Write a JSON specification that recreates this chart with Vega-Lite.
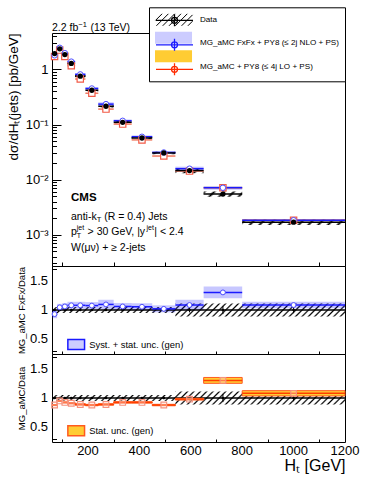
{
"$schema": "https://vega.github.io/schema/vega-lite/v6.json",
"padding": {"left": 5, "top": 6, "right": 0, "bottom": 0},
"spacing": 0,
"bounds": "flush",
"resolve": {"scale": {"fill": "independent", "stroke": "independent", "color": "independent"}, "legend": {"fill": "independent", "stroke": "independent", "color": "independent"}},
"config": {
  "font": "Liberation Sans",
  "view": {"stroke": "black", "strokeWidth": 1},
  "axis": {"grid": false, "domain": false, "labelFont": "Liberation Sans", "titleFont": "Liberation Sans", "labelColor": "black", "titleColor": "black", "tickColor": "black", "tickWidth": 1, "titleFontWeight": "normal", "labelFlush": false, "labelOverlap": false},
  "legend": {"labelFont": "Liberation Sans", "labelColor": "black"},
  "text": {"font": "Liberation Sans", "color": "black"}
},
"datasets": {
  "main": [
    {"xlo":60,"xhi":80,"xc":70,"d":1.95,"dlo":1.85,"dhi":2.05,"fx":1.81,"fxlo":1.68,"fxhi":1.94,"lo":1.72,"lolo":1.69,"lohi":1.75},
    {"xlo":80,"xhi":100,"xc":90,"d":2.37,"dlo":2.25,"dhi":2.49,"fx":2.48,"fxlo":2.33,"fxhi":2.63,"lo":2.25,"lolo":2.22,"lohi":2.28},
    {"xlo":100,"xhi":120,"xc":110,"d":1.87,"dlo":1.78,"dhi":1.96,"fx":1.98,"fxlo":1.86,"fxhi":2.10,"lo":1.73,"lolo":1.70,"lohi":1.76},
    {"xlo":120,"xhi":150,"xc":135,"d":1.29,"dlo":1.23,"dhi":1.35,"fx":1.39,"fxlo":1.31,"fxhi":1.47,"lo":1.17,"lolo":1.15,"lohi":1.19},
    {"xlo":150,"xhi":190,"xc":170,"d":0.755,"dlo":0.717,"dhi":0.793,"fx":0.815,"fxlo":0.766,"fxhi":0.864,"lo":0.672,"lolo":0.662,"lohi":0.682},
    {"xlo":190,"xhi":240,"xc":215,"d":0.42,"dlo":0.399,"dhi":0.441,"fx":0.452,"fxlo":0.425,"fxhi":0.479,"lo":0.37,"lolo":0.364,"lohi":0.376},
    {"xlo":240,"xhi":300,"xc":270,"d":0.215,"dlo":0.204,"dhi":0.226,"fx":0.235,"fxlo":0.216,"fxhi":0.254,"lo":0.191,"lolo":0.188,"lohi":0.194},
    {"xlo":300,"xhi":370,"xc":335,"d":0.110,"dlo":0.1045,"dhi":0.1155,"fx":0.117,"fxlo":0.110,"fxhi":0.124,"lo":0.102,"lolo":0.1005,"lohi":0.1035},
    {"xlo":370,"xhi":450,"xc":410,"d":0.057,"dlo":0.0542,"dhi":0.0599,"fx":0.060,"fxlo":0.0564,"fxhi":0.0636,"lo":0.0527,"lolo":0.0519,"lohi":0.0535},
    {"xlo":450,"xhi":540,"xc":495,"d":0.0305,"dlo":0.029,"dhi":0.032,"fx":0.0311,"fxlo":0.0292,"fxhi":0.0330,"lo":0.0268,"lolo":0.0264,"lohi":0.0272},
    {"xlo":540,"xhi":650,"xc":595,"d":0.0146,"dlo":0.0130,"dhi":0.0162,"fx":0.0158,"fxlo":0.0144,"fxhi":0.0172,"lo":0.0143,"lolo":0.0141,"lohi":0.0145},
    {"xlo":650,"xhi":800,"xc":725,"d":0.00547,"dlo":0.00487,"dhi":0.00607,"fx":0.00711,"fxlo":0.00654,"fxhi":0.00768,"lo":0.00711,"lolo":0.00683,"lohi":0.00739},
    {"xlo":800,"xhi":1200,"xc":1000,"d":0.00169,"dlo":0.00150,"dhi":0.00188,"fx":0.00183,"fxlo":0.00174,"fxhi":0.00192,"lo":0.00183,"lolo":0.00176,"lohi":0.00190}
  ],
  "ratio": [
    {"xlo":60,"xhi":80,"xc":70,"dlo":0.95,"dhi":1.05,"slo":0.99,"shi":1.01,"r1":0.93,"r1lo":0.86,"r1hi":1.0,"r2":0.88,"r2lo":0.87,"r2hi":0.89},
    {"xlo":80,"xhi":100,"xc":90,"dlo":0.95,"dhi":1.05,"slo":0.99,"shi":1.01,"r1":1.045,"r1lo":0.985,"r1hi":1.105,"r2":0.95,"r2lo":0.94,"r2hi":0.96},
    {"xlo":100,"xhi":120,"xc":110,"dlo":0.95,"dhi":1.05,"slo":0.99,"shi":1.01,"r1":1.06,"r1lo":1.0,"r1hi":1.12,"r2":0.925,"r2lo":0.913,"r2hi":0.937},
    {"xlo":120,"xhi":150,"xc":135,"dlo":0.95,"dhi":1.05,"slo":0.99,"shi":1.01,"r1":1.08,"r1lo":1.02,"r1hi":1.14,"r2":0.91,"r2lo":0.898,"r2hi":0.922},
    {"xlo":150,"xhi":190,"xc":170,"dlo":0.95,"dhi":1.05,"slo":0.99,"shi":1.01,"r1":1.08,"r1lo":1.02,"r1hi":1.14,"r2":0.89,"r2lo":0.878,"r2hi":0.902},
    {"xlo":190,"xhi":240,"xc":215,"dlo":0.95,"dhi":1.05,"slo":0.99,"shi":1.01,"r1":1.075,"r1lo":1.015,"r1hi":1.135,"r2":0.88,"r2lo":0.868,"r2hi":0.892},
    {"xlo":240,"xhi":300,"xc":270,"dlo":0.95,"dhi":1.05,"slo":0.99,"shi":1.01,"r1":1.095,"r1lo":1.015,"r1hi":1.175,"r2":0.89,"r2lo":0.878,"r2hi":0.902},
    {"xlo":300,"xhi":370,"xc":335,"dlo":0.95,"dhi":1.05,"slo":0.985,"shi":1.015,"r1":1.06,"r1lo":1.0,"r1hi":1.12,"r2":0.925,"r2lo":0.913,"r2hi":0.937},
    {"xlo":370,"xhi":450,"xc":410,"dlo":0.95,"dhi":1.05,"slo":0.985,"shi":1.015,"r1":1.055,"r1lo":0.995,"r1hi":1.115,"r2":0.925,"r2lo":0.913,"r2hi":0.937},
    {"xlo":450,"xhi":540,"xc":495,"dlo":0.95,"dhi":1.05,"slo":0.98,"shi":1.02,"r1":1.02,"r1lo":0.96,"r1hi":1.08,"r2":0.88,"r2lo":0.868,"r2hi":0.892},
    {"xlo":540,"xhi":650,"xc":595,"dlo":0.89,"dhi":1.11,"slo":0.96,"shi":1.04,"r1":1.085,"r1lo":0.995,"r1hi":1.175,"r2":0.98,"r2lo":0.965,"r2hi":0.995},
    {"xlo":650,"xhi":800,"xc":725,"dlo":0.89,"dhi":1.11,"slo":0.93,"shi":1.07,"r1":1.30,"r1lo":1.20,"r1hi":1.40,"r2":1.30,"r2lo":1.25,"r2hi":1.35},
    {"xlo":800,"xhi":1200,"xc":1000,"dlo":0.89,"dhi":1.11,"slo":0.945,"shi":1.055,"r1":1.085,"r1lo":1.03,"r1hi":1.14,"r2":1.08,"r2lo":1.035,"r2hi":1.125}
  ]
},
"vconcat": [
{
  "width": 293, "height": 233,
  "data": {"name": "main"},
  "layer": [
    {
      "transform": [{"fold": ["xlo", "xhi"], "as": ["edge", "ex"]}],
      "mark": {"type": "area", "opacity": 1, "strokeWidth": 0, "fill": {"gradient": "linear", "x1": 0, "y1": 0, "x2": 1.175, "y2": 0.71, "stops": [{"offset":0,"color":"transparent"},{"offset":0.0055,"color":"#000"},{"offset":0.011,"color":"transparent"},{"offset":0.0208,"color":"transparent"},{"offset":0.0263,"color":"#000"},{"offset":0.0318,"color":"transparent"},{"offset":0.0417,"color":"transparent"},{"offset":0.0472,"color":"#000"},{"offset":0.0527,"color":"transparent"},{"offset":0.0625,"color":"transparent"},{"offset":0.068,"color":"#000"},{"offset":0.0735,"color":"transparent"},{"offset":0.0833,"color":"transparent"},{"offset":0.0888,"color":"#000"},{"offset":0.0943,"color":"transparent"},{"offset":0.1042,"color":"transparent"},{"offset":0.1097,"color":"#000"},{"offset":0.1152,"color":"transparent"},{"offset":0.125,"color":"transparent"},{"offset":0.1305,"color":"#000"},{"offset":0.136,"color":"transparent"},{"offset":0.1458,"color":"transparent"},{"offset":0.1513,"color":"#000"},{"offset":0.1568,"color":"transparent"},{"offset":0.1667,"color":"transparent"},{"offset":0.1722,"color":"#000"},{"offset":0.1777,"color":"transparent"},{"offset":0.1875,"color":"transparent"},{"offset":0.193,"color":"#000"},{"offset":0.1985,"color":"transparent"},{"offset":0.2083,"color":"transparent"},{"offset":0.2138,"color":"#000"},{"offset":0.2193,"color":"transparent"},{"offset":0.2292,"color":"transparent"},{"offset":0.2347,"color":"#000"},{"offset":0.2402,"color":"transparent"},{"offset":0.25,"color":"transparent"},{"offset":0.2555,"color":"#000"},{"offset":0.261,"color":"transparent"},{"offset":0.2708,"color":"transparent"},{"offset":0.2763,"color":"#000"},{"offset":0.2818,"color":"transparent"},{"offset":0.2917,"color":"transparent"},{"offset":0.2972,"color":"#000"},{"offset":0.3027,"color":"transparent"},{"offset":0.3125,"color":"transparent"},{"offset":0.318,"color":"#000"},{"offset":0.3235,"color":"transparent"},{"offset":0.3333,"color":"transparent"},{"offset":0.3388,"color":"#000"},{"offset":0.3443,"color":"transparent"},{"offset":0.3542,"color":"transparent"},{"offset":0.3597,"color":"#000"},{"offset":0.3652,"color":"transparent"},{"offset":0.375,"color":"transparent"},{"offset":0.3805,"color":"#000"},{"offset":0.386,"color":"transparent"},{"offset":0.3958,"color":"transparent"},{"offset":0.4013,"color":"#000"},{"offset":0.4068,"color":"transparent"},{"offset":0.4167,"color":"transparent"},{"offset":0.4222,"color":"#000"},{"offset":0.4277,"color":"transparent"},{"offset":0.4375,"color":"transparent"},{"offset":0.443,"color":"#000"},{"offset":0.4485,"color":"transparent"},{"offset":0.4583,"color":"transparent"},{"offset":0.4638,"color":"#000"},{"offset":0.4693,"color":"transparent"},{"offset":0.4792,"color":"transparent"},{"offset":0.4847,"color":"#000"},{"offset":0.4902,"color":"transparent"},{"offset":0.5,"color":"transparent"},{"offset":0.5055,"color":"#000"},{"offset":0.511,"color":"transparent"},{"offset":0.5208,"color":"transparent"},{"offset":0.5263,"color":"#000"},{"offset":0.5318,"color":"transparent"},{"offset":0.5417,"color":"transparent"},{"offset":0.5472,"color":"#000"},{"offset":0.5527,"color":"transparent"},{"offset":0.5625,"color":"transparent"},{"offset":0.568,"color":"#000"},{"offset":0.5735,"color":"transparent"},{"offset":0.5833,"color":"transparent"},{"offset":0.5888,"color":"#000"},{"offset":0.5943,"color":"transparent"},{"offset":0.6042,"color":"transparent"},{"offset":0.6097,"color":"#000"},{"offset":0.6152,"color":"transparent"},{"offset":0.625,"color":"transparent"},{"offset":0.6305,"color":"#000"},{"offset":0.636,"color":"transparent"},{"offset":0.6458,"color":"transparent"},{"offset":0.6513,"color":"#000"},{"offset":0.6568,"color":"transparent"},{"offset":0.6667,"color":"transparent"},{"offset":0.6722,"color":"#000"},{"offset":0.6777,"color":"transparent"},{"offset":0.6875,"color":"transparent"},{"offset":0.693,"color":"#000"},{"offset":0.6985,"color":"transparent"},{"offset":0.7083,"color":"transparent"},{"offset":0.7138,"color":"#000"},{"offset":0.7193,"color":"transparent"},{"offset":0.7292,"color":"transparent"},{"offset":0.7347,"color":"#000"},{"offset":0.7402,"color":"transparent"},{"offset":0.75,"color":"transparent"},{"offset":0.7555,"color":"#000"},{"offset":0.761,"color":"transparent"},{"offset":0.7708,"color":"transparent"},{"offset":0.7763,"color":"#000"},{"offset":0.7818,"color":"transparent"},{"offset":0.7917,"color":"transparent"},{"offset":0.7972,"color":"#000"},{"offset":0.8027,"color":"transparent"},{"offset":0.8125,"color":"transparent"},{"offset":0.818,"color":"#000"},{"offset":0.8235,"color":"transparent"},{"offset":0.8333,"color":"transparent"},{"offset":0.8388,"color":"#000"},{"offset":0.8443,"color":"transparent"},{"offset":0.8542,"color":"transparent"},{"offset":0.8597,"color":"#000"},{"offset":0.8652,"color":"transparent"},{"offset":0.875,"color":"transparent"},{"offset":0.8805,"color":"#000"},{"offset":0.886,"color":"transparent"},{"offset":0.8958,"color":"transparent"},{"offset":0.9013,"color":"#000"},{"offset":0.9068,"color":"transparent"},{"offset":0.9167,"color":"transparent"},{"offset":0.9222,"color":"#000"},{"offset":0.9277,"color":"transparent"},{"offset":0.9375,"color":"transparent"},{"offset":0.943,"color":"#000"},{"offset":0.9485,"color":"transparent"},{"offset":0.9583,"color":"transparent"},{"offset":0.9638,"color":"#000"},{"offset":0.9693,"color":"transparent"},{"offset":0.9792,"color":"transparent"},{"offset":0.9847,"color":"#000"},{"offset":0.9902,"color":"transparent"}]}},
      "encoding": {
        "x": {"field": "ex", "type": "quantitative", "scale": {"domain": [60, 1200], "nice": false, "zero": false},
              "axis": {"title": null, "labels": false, "orient": "bottom", "values": [100,150,200,250,300,350,400,450,500,550,600,650,700,750,800,850,900,950,1000,1050,1100,1150,1200],
                       "tickSize": {"condition": {"test": "datum.value % 200 == 0", "value": -8}, "value": -4}}},
        "y": {"field": "dhi", "type": "quantitative", "scale": {"type": "log", "domain": [0.00027, 4.6], "nice": false},
              "axis": {"title": "dσ/dHₜ(jets)  [pb/GeV]", "titleFontSize": 13.5, "titleAnchor": "end", "titlePadding": 4, "minExtent": 28, "maxExtent": 28,
                       "values": [0.0003,0.0004,0.0005,0.0006,0.0007,0.0008,0.0009,0.001,0.002,0.003,0.004,0.005,0.006,0.007,0.008,0.009,0.01,0.02,0.03,0.04,0.05,0.06,0.07,0.08,0.09,0.1,0.2,0.3,0.4,0.5,0.6,0.7,0.8,0.9,1,2,3,4],
                       "labelExpr": "datum.value == 1 ? '1' : datum.value == 0.1 ? '10⁻¹' : datum.value == 0.01 ? '10⁻²' : datum.value == 0.001 ? '10⁻³' : ''",
                       "labelFontSize": 13, "labelPadding": 13,
                       "tickSize": {"condition": {"test": "datum.value == 1 || datum.value == 0.1 || datum.value == 0.01 || datum.value == 0.001", "value": -9}, "value": -4.5}}},
        "y2": {"field": "dlo"}
      }
    },
    {"mark": {"type": "rect", "fill": "#0000ff", "opacity": 0.22},
     "encoding": {"x": {"field": "xlo", "type": "quantitative"}, "x2": {"field": "xhi"}, "y": {"field": "fxlo", "type": "quantitative"}, "y2": {"field": "fxhi"}}},
    {"mark": {"type": "rect", "fill": "#ffcc33", "opacity": 0.5},
     "encoding": {"x": {"field": "xlo", "type": "quantitative"}, "x2": {"field": "xhi"}, "y": {"field": "lolo", "type": "quantitative"}, "y2": {"field": "lohi"}}},
    {"mark": {"type": "rule", "stroke": "#f07a6a", "strokeWidth": 1.5},
     "encoding": {"x": {"field": "xlo", "type": "quantitative"}, "x2": {"field": "xhi"}, "y": {"field": "lo", "type": "quantitative"}}},
    {"mark": {"type": "rule", "stroke": "#1a1aff", "strokeWidth": 1.5},
     "encoding": {"x": {"field": "xlo", "type": "quantitative"}, "x2": {"field": "xhi"}, "y": {"field": "fx", "type": "quantitative"}}},
    {"mark": {"type": "rule", "stroke": "black", "strokeWidth": 1.5},
     "encoding": {"x": {"field": "xlo", "type": "quantitative"}, "x2": {"field": "xhi"}, "y": {"field": "d", "type": "quantitative"}}},
    {"mark": {"type": "point", "shape": "square", "filled": true, "fill": "white", "stroke": "#f25a46", "strokeWidth": 1.2, "size": 40, "opacity": 1},
     "encoding": {"x": {"field": "xc", "type": "quantitative"}, "y": {"field": "lo", "type": "quantitative"}}},
    {"mark": {"type": "point", "shape": "circle", "filled": true, "fill": "white", "stroke": "#4d4dff", "strokeWidth": 1, "size": 30, "opacity": 1},
     "encoding": {"x": {"field": "xc", "type": "quantitative"}, "y": {"field": "fx", "type": "quantitative"}}},
    {"mark": {"type": "circle", "color": "black", "size": 28, "opacity": 1},
     "encoding": {"x": {"field": "xc", "type": "quantitative"}, "y": {"field": "d", "type": "quantitative"}}},
    {"data": {"values": [{}]}, "mark": {"type": "text", "align": "left", "baseline": "alphabetic", "fontSize": 10.5},
     "encoding": {"x": {"datum": 60}, "y": {"datum": 5.0}, "text": {"value": "2.2 fb"}}},
    {"data": {"values": [{}]}, "mark": {"type": "text", "align": "left", "baseline": "alphabetic", "fontSize": 7.5, "dx": 26.3, "dy": -4.5},
     "encoding": {"x": {"datum": 60}, "y": {"datum": 5.0}, "text": {"value": "−1"}}},
    {"data": {"values": [{}]}, "mark": {"type": "text", "align": "left", "baseline": "alphabetic", "fontSize": 10.5, "dx": 38.5},
     "encoding": {"x": {"datum": 60}, "y": {"datum": 5.0}, "text": {"value": "(13 TeV)"}}},
    {"data": {"values": [{}]}, "mark": {"type": "text", "align": "left", "baseline": "middle", "fontSize": 11.5, "fontWeight": "bold"},
     "encoding": {"x": {"datum": 134}, "y": {"datum": 0.00462}, "text": {"value": "CMS"}}},
    {"data": {"values": [{}]}, "mark": {"type": "text", "align": "left", "baseline": "middle", "fontSize": 10.5},
     "encoding": {"x": {"datum": 134}, "y": {"datum": 0.00209}, "text": {"value": "anti-k"}}},
    {"data": {"values": [{}]}, "mark": {"type": "text", "align": "left", "baseline": "middle", "fontSize": 7.5, "dx": 25.7, "dy": 3},
     "encoding": {"x": {"datum": 134}, "y": {"datum": 0.00209}, "text": {"value": "T"}}},
    {"data": {"values": [{}]}, "mark": {"type": "text", "align": "left", "baseline": "middle", "fontSize": 10.5, "dx": 33.2},
     "encoding": {"x": {"datum": 134}, "y": {"datum": 0.00209}, "text": {"value": "(R = 0.4) Jets"}}},
    {"data": {"values": [{}]}, "mark": {"type": "text", "align": "left", "baseline": "middle", "fontSize": 10.5},
     "encoding": {"x": {"datum": 134}, "y": {"datum": 0.001114}, "text": {"value": "p"}}},
    {"data": {"values": [{}]}, "mark": {"type": "text", "align": "left", "baseline": "middle", "fontSize": 7, "dx": 5.8, "dy": -4.5},
     "encoding": {"x": {"datum": 134}, "y": {"datum": 0.001114}, "text": {"value": "jet"}}},
    {"data": {"values": [{}]}, "mark": {"type": "text", "align": "left", "baseline": "middle", "fontSize": 7, "dx": 5.8, "dy": 3.5},
     "encoding": {"x": {"datum": 134}, "y": {"datum": 0.001114}, "text": {"value": "T"}}},
    {"data": {"values": [{}]}, "mark": {"type": "text", "align": "left", "baseline": "middle", "fontSize": 10.5, "dx": 16.6},
     "encoding": {"x": {"datum": 134}, "y": {"datum": 0.001114}, "text": {"value": "> 30 GeV, |y"}}},
    {"data": {"values": [{}]}, "mark": {"type": "text", "align": "left", "baseline": "middle", "fontSize": 7, "dx": 75.5, "dy": -4.5},
     "encoding": {"x": {"datum": 134}, "y": {"datum": 0.001114}, "text": {"value": "jet"}}},
    {"data": {"values": [{}]}, "mark": {"type": "text", "align": "left", "baseline": "middle", "fontSize": 10.5, "dx": 83.3},
     "encoding": {"x": {"datum": 134}, "y": {"datum": 0.001114}, "text": {"value": "| < 2.4"}}},
    {"data": {"values": [{}]}, "mark": {"type": "text", "align": "left", "baseline": "middle", "fontSize": 10.5},
     "encoding": {"x": {"datum": 134}, "y": {"datum": 0.00057}, "text": {"value": "W(μν) + ≥ 2-jets"}}},
    {"data": {"values": [{"hatch": "Data"}, {"hatch": "MG_aMC FxFx + PY8 (≤ 2j NLO + PS)"}, {"hatch": "MG_aMC + PY8 (≤ 4j LO + PS)"}]},
     "mark": {"type": "point", "filled": false, "opacity": 0},
     "encoding": {"color": {"field": "hatch", "type": "nominal", "sort": null,
        "scale": {"range": ["black", "transparent", "transparent"]},
        "legend": {"title": null, "orient": "none", "legendX": 97, "legendY": -25.7, "symbolType": "M-1,0.1L0.1,-1M-0.85,1L1.15,-1M0.2,1L2.2,-1M1.25,1L3.25,-1M2.3,1L4.3,-1M3.35,1L5.17,-0.82M4.4,1L5.17,0.23", "symbolSize": 144, "symbolStrokeWidth": 1, "symbolOpacity": 1, "symbolFillColor": "transparent",
                   "labelFontSize": 8.1, "labelOffset": 32, "rowPadding": 6.5, "padding": 6, "fillColor": "white", "strokeColor": "black", "labelLimit": 300}}}},
    {"data": {"values": [{"band": "Data"}, {"band": "MG_aMC FxFx + PY8 (≤ 2j NLO + PS)"}, {"band": "MG_aMC + PY8 (≤ 4j LO + PS)"}]},
     "mark": {"type": "point", "filled": true, "opacity": 0},
     "encoding": {"fill": {"field": "band", "type": "nominal", "sort": null,
        "scale": {"range": ["transparent", "#ccccff", "#ffcc33"]},
        "legend": {"title": null, "orient": "none", "legendX": 97, "legendY": -25.7, "symbolType": "M-1,-1H5.17V1H-1Z", "symbolSize": 144, "symbolStrokeWidth": 0, "symbolOpacity": 1,
                   "labelFontSize": 8.1, "labelOffset": 32, "labelExpr": "''", "rowPadding": 6.5, "padding": 6, "labelLimit": 300}}}},
    {"data": {"values": [{"line": "Data"}, {"line": "MG_aMC FxFx + PY8 (≤ 2j NLO + PS)"}, {"line": "MG_aMC + PY8 (≤ 4j LO + PS)"}]},
     "mark": {"type": "point", "filled": false, "opacity": 0},
     "encoding": {"stroke": {"field": "line", "type": "nominal", "sort": null,
        "scale": {"range": ["black", "#1a1aff", "#ff2a00"]},
        "legend": {"title": null, "orient": "none", "legendX": 97, "legendY": -25.7, "symbolType": "M-1,0H5.17M2.085,-1V1M2.585,0A0.5,0.5 0 1,1 1.585,0A0.5,0.5 0 1,1 2.585,0", "symbolSize": 144, "symbolStrokeWidth": 1.3, "symbolOpacity": 1, "symbolFillColor": "transparent",
                   "labelFontSize": 8.1, "labelOffset": 32, "labelExpr": "''", "rowPadding": 6.5, "padding": 6, "labelLimit": 300,
                   "encode": {"symbols": {"update": {"fill": {"signal": "datum.value === 'Data' ? 'black' : 'transparent'"}}}}}}}}
  ]
},
{
  "width": 293, "height": 88,
  "data": {"name": "ratio"},
  "layer": [
    {
      "transform": [{"fold": ["xlo", "xhi"], "as": ["edge", "ex"]}],
      "mark": {"type": "area", "opacity": 1, "strokeWidth": 0, "fill": {"gradient": "linear", "x1": 0, "y1": 0, "x2": 1.042, "y2": 0.0459, "stops": [{"offset":0,"color":"transparent"},{"offset":0.0055,"color":"#000"},{"offset":0.011,"color":"transparent"},{"offset":0.0208,"color":"transparent"},{"offset":0.0263,"color":"#000"},{"offset":0.0318,"color":"transparent"},{"offset":0.0417,"color":"transparent"},{"offset":0.0472,"color":"#000"},{"offset":0.0527,"color":"transparent"},{"offset":0.0625,"color":"transparent"},{"offset":0.068,"color":"#000"},{"offset":0.0735,"color":"transparent"},{"offset":0.0833,"color":"transparent"},{"offset":0.0888,"color":"#000"},{"offset":0.0943,"color":"transparent"},{"offset":0.1042,"color":"transparent"},{"offset":0.1097,"color":"#000"},{"offset":0.1152,"color":"transparent"},{"offset":0.125,"color":"transparent"},{"offset":0.1305,"color":"#000"},{"offset":0.136,"color":"transparent"},{"offset":0.1458,"color":"transparent"},{"offset":0.1513,"color":"#000"},{"offset":0.1568,"color":"transparent"},{"offset":0.1667,"color":"transparent"},{"offset":0.1722,"color":"#000"},{"offset":0.1777,"color":"transparent"},{"offset":0.1875,"color":"transparent"},{"offset":0.193,"color":"#000"},{"offset":0.1985,"color":"transparent"},{"offset":0.2083,"color":"transparent"},{"offset":0.2138,"color":"#000"},{"offset":0.2193,"color":"transparent"},{"offset":0.2292,"color":"transparent"},{"offset":0.2347,"color":"#000"},{"offset":0.2402,"color":"transparent"},{"offset":0.25,"color":"transparent"},{"offset":0.2555,"color":"#000"},{"offset":0.261,"color":"transparent"},{"offset":0.2708,"color":"transparent"},{"offset":0.2763,"color":"#000"},{"offset":0.2818,"color":"transparent"},{"offset":0.2917,"color":"transparent"},{"offset":0.2972,"color":"#000"},{"offset":0.3027,"color":"transparent"},{"offset":0.3125,"color":"transparent"},{"offset":0.318,"color":"#000"},{"offset":0.3235,"color":"transparent"},{"offset":0.3333,"color":"transparent"},{"offset":0.3388,"color":"#000"},{"offset":0.3443,"color":"transparent"},{"offset":0.3542,"color":"transparent"},{"offset":0.3597,"color":"#000"},{"offset":0.3652,"color":"transparent"},{"offset":0.375,"color":"transparent"},{"offset":0.3805,"color":"#000"},{"offset":0.386,"color":"transparent"},{"offset":0.3958,"color":"transparent"},{"offset":0.4013,"color":"#000"},{"offset":0.4068,"color":"transparent"},{"offset":0.4167,"color":"transparent"},{"offset":0.4222,"color":"#000"},{"offset":0.4277,"color":"transparent"},{"offset":0.4375,"color":"transparent"},{"offset":0.443,"color":"#000"},{"offset":0.4485,"color":"transparent"},{"offset":0.4583,"color":"transparent"},{"offset":0.4638,"color":"#000"},{"offset":0.4693,"color":"transparent"},{"offset":0.4792,"color":"transparent"},{"offset":0.4847,"color":"#000"},{"offset":0.4902,"color":"transparent"},{"offset":0.5,"color":"transparent"},{"offset":0.5055,"color":"#000"},{"offset":0.511,"color":"transparent"},{"offset":0.5208,"color":"transparent"},{"offset":0.5263,"color":"#000"},{"offset":0.5318,"color":"transparent"},{"offset":0.5417,"color":"transparent"},{"offset":0.5472,"color":"#000"},{"offset":0.5527,"color":"transparent"},{"offset":0.5625,"color":"transparent"},{"offset":0.568,"color":"#000"},{"offset":0.5735,"color":"transparent"},{"offset":0.5833,"color":"transparent"},{"offset":0.5888,"color":"#000"},{"offset":0.5943,"color":"transparent"},{"offset":0.6042,"color":"transparent"},{"offset":0.6097,"color":"#000"},{"offset":0.6152,"color":"transparent"},{"offset":0.625,"color":"transparent"},{"offset":0.6305,"color":"#000"},{"offset":0.636,"color":"transparent"},{"offset":0.6458,"color":"transparent"},{"offset":0.6513,"color":"#000"},{"offset":0.6568,"color":"transparent"},{"offset":0.6667,"color":"transparent"},{"offset":0.6722,"color":"#000"},{"offset":0.6777,"color":"transparent"},{"offset":0.6875,"color":"transparent"},{"offset":0.693,"color":"#000"},{"offset":0.6985,"color":"transparent"},{"offset":0.7083,"color":"transparent"},{"offset":0.7138,"color":"#000"},{"offset":0.7193,"color":"transparent"},{"offset":0.7292,"color":"transparent"},{"offset":0.7347,"color":"#000"},{"offset":0.7402,"color":"transparent"},{"offset":0.75,"color":"transparent"},{"offset":0.7555,"color":"#000"},{"offset":0.761,"color":"transparent"},{"offset":0.7708,"color":"transparent"},{"offset":0.7763,"color":"#000"},{"offset":0.7818,"color":"transparent"},{"offset":0.7917,"color":"transparent"},{"offset":0.7972,"color":"#000"},{"offset":0.8027,"color":"transparent"},{"offset":0.8125,"color":"transparent"},{"offset":0.818,"color":"#000"},{"offset":0.8235,"color":"transparent"},{"offset":0.8333,"color":"transparent"},{"offset":0.8388,"color":"#000"},{"offset":0.8443,"color":"transparent"},{"offset":0.8542,"color":"transparent"},{"offset":0.8597,"color":"#000"},{"offset":0.8652,"color":"transparent"},{"offset":0.875,"color":"transparent"},{"offset":0.8805,"color":"#000"},{"offset":0.886,"color":"transparent"},{"offset":0.8958,"color":"transparent"},{"offset":0.9013,"color":"#000"},{"offset":0.9068,"color":"transparent"},{"offset":0.9167,"color":"transparent"},{"offset":0.9222,"color":"#000"},{"offset":0.9277,"color":"transparent"},{"offset":0.9375,"color":"transparent"},{"offset":0.943,"color":"#000"},{"offset":0.9485,"color":"transparent"},{"offset":0.9583,"color":"transparent"},{"offset":0.9638,"color":"#000"},{"offset":0.9693,"color":"transparent"},{"offset":0.9792,"color":"transparent"},{"offset":0.9847,"color":"#000"},{"offset":0.9902,"color":"transparent"}]}},
      "encoding": {
        "x": {"field": "ex", "type": "quantitative", "scale": {"domain": [60, 1200], "nice": false, "zero": false},
              "axis": {"title": null, "labels": false, "orient": "bottom", "values": [100,150,200,250,300,350,400,450,500,550,600,650,700,750,800,850,900,950,1000,1050,1100,1150,1200],
                       "tickSize": {"condition": {"test": "datum.value % 200 == 0", "value": -5}, "value": -3}}},
        "y": {"field": "dhi", "type": "quantitative", "scale": {"domain": [0.25, 1.75], "nice": false, "zero": false},
              "axis": {"title": "MG_aMC FxFx/Data", "titleFontSize": 9.5, "titleAnchor": "middle", "titlePadding": 2, "minExtent": 24, "maxExtent": 24, "labels": false,
                       "values": [0.3,0.4,0.5,0.6,0.7,0.8,0.9,1,1.1,1.2,1.3,1.4,1.5,1.6,1.7],
                       "tickSize": {"condition": {"test": "datum.value == 0.5 || datum.value == 1 || datum.value == 1.5", "value": -9}, "value": -4.5}}},
        "y2": {"field": "dlo"}
      }
    },
    {"mark": {"type": "rect", "fill": "#0000ff", "opacity": 0.22},
     "encoding": {"x": {"field": "xlo", "type": "quantitative"}, "x2": {"field": "xhi"}, "y": {"field": "r1lo", "type": "quantitative"}, "y2": {"field": "r1hi"}}},
    {"data": {"values": [{}]}, "mark": {"type": "rule", "color": "black", "strokeWidth": 1.5},
     "encoding": {"y": {"datum": 1}}},
    {"mark": {"type": "rule", "color": "black", "strokeWidth": 1},
     "encoding": {"x": {"field": "xc", "type": "quantitative"}, "y": {"field": "slo", "type": "quantitative"}, "y2": {"field": "shi"}}},
    {"mark": {"type": "circle", "color": "black", "size": 7, "opacity": 1},
     "encoding": {"x": {"field": "xc", "type": "quantitative"}, "y": {"datum": 1}}},
    {"mark": {"type": "rule", "stroke": "#1a1aff", "strokeWidth": 1.5},
     "encoding": {"x": {"field": "xlo", "type": "quantitative"}, "x2": {"field": "xhi"}, "y": {"field": "r1", "type": "quantitative"}}},
    {"mark": {"type": "point", "shape": "circle", "filled": true, "fill": "white", "stroke": "#4d4dff", "strokeWidth": 1, "size": 24, "opacity": 1},
     "encoding": {"x": {"field": "xc", "type": "quantitative"}, "y": {"field": "r1", "type": "quantitative"}}},
    {"data": {"values": [{}]}, "mark": {"type": "text", "align": "right", "baseline": "middle", "fontSize": 13},
     "encoding": {"x": {"datum": 44.4}, "y": {"datum": 0.5}, "text": {"value": "0.5"}}},
    {"data": {"values": [{}]}, "mark": {"type": "text", "align": "right", "baseline": "middle", "fontSize": 13},
     "encoding": {"x": {"datum": 44.4}, "y": {"datum": 1}, "text": {"value": "1"}}},
    {"data": {"values": [{}]}, "mark": {"type": "text", "align": "right", "baseline": "middle", "fontSize": 13},
     "encoding": {"x": {"datum": 44.4}, "y": {"datum": 1.5}, "text": {"value": "1.5"}}},
    {"data": {"values": [{"u": "Syst. + stat. unc. (gen)"}]},
     "mark": {"type": "point", "filled": true, "opacity": 0},
     "encoding": {"fill": {"field": "u", "type": "nominal", "scale": {"range": ["#ccccff"]},
        "legend": {"title": null, "orient": "none", "legendX": 14.7, "legendY": 69, "symbolType": "M-1,-0.6H1V0.6H-1Z", "symbolSize": 279, "symbolStrokeColor": "#1a1aff", "symbolStrokeWidth": 1.5, "symbolOpacity": 1,
                   "labelFontSize": 9.4, "labelOffset": 3.5, "padding": 0, "labelLimit": 300}}}}
  ]
},
{
  "width": 293, "height": 88,
  "data": {"name": "ratio"},
  "layer": [
    {
      "transform": [{"fold": ["xlo", "xhi"], "as": ["edge", "ex"]}],
      "mark": {"type": "area", "opacity": 1, "strokeWidth": 0, "fill": {"gradient": "linear", "x1": 0, "y1": 0, "x2": 1.042, "y2": 0.0459, "stops": [{"offset":0,"color":"transparent"},{"offset":0.0055,"color":"#000"},{"offset":0.011,"color":"transparent"},{"offset":0.0208,"color":"transparent"},{"offset":0.0263,"color":"#000"},{"offset":0.0318,"color":"transparent"},{"offset":0.0417,"color":"transparent"},{"offset":0.0472,"color":"#000"},{"offset":0.0527,"color":"transparent"},{"offset":0.0625,"color":"transparent"},{"offset":0.068,"color":"#000"},{"offset":0.0735,"color":"transparent"},{"offset":0.0833,"color":"transparent"},{"offset":0.0888,"color":"#000"},{"offset":0.0943,"color":"transparent"},{"offset":0.1042,"color":"transparent"},{"offset":0.1097,"color":"#000"},{"offset":0.1152,"color":"transparent"},{"offset":0.125,"color":"transparent"},{"offset":0.1305,"color":"#000"},{"offset":0.136,"color":"transparent"},{"offset":0.1458,"color":"transparent"},{"offset":0.1513,"color":"#000"},{"offset":0.1568,"color":"transparent"},{"offset":0.1667,"color":"transparent"},{"offset":0.1722,"color":"#000"},{"offset":0.1777,"color":"transparent"},{"offset":0.1875,"color":"transparent"},{"offset":0.193,"color":"#000"},{"offset":0.1985,"color":"transparent"},{"offset":0.2083,"color":"transparent"},{"offset":0.2138,"color":"#000"},{"offset":0.2193,"color":"transparent"},{"offset":0.2292,"color":"transparent"},{"offset":0.2347,"color":"#000"},{"offset":0.2402,"color":"transparent"},{"offset":0.25,"color":"transparent"},{"offset":0.2555,"color":"#000"},{"offset":0.261,"color":"transparent"},{"offset":0.2708,"color":"transparent"},{"offset":0.2763,"color":"#000"},{"offset":0.2818,"color":"transparent"},{"offset":0.2917,"color":"transparent"},{"offset":0.2972,"color":"#000"},{"offset":0.3027,"color":"transparent"},{"offset":0.3125,"color":"transparent"},{"offset":0.318,"color":"#000"},{"offset":0.3235,"color":"transparent"},{"offset":0.3333,"color":"transparent"},{"offset":0.3388,"color":"#000"},{"offset":0.3443,"color":"transparent"},{"offset":0.3542,"color":"transparent"},{"offset":0.3597,"color":"#000"},{"offset":0.3652,"color":"transparent"},{"offset":0.375,"color":"transparent"},{"offset":0.3805,"color":"#000"},{"offset":0.386,"color":"transparent"},{"offset":0.3958,"color":"transparent"},{"offset":0.4013,"color":"#000"},{"offset":0.4068,"color":"transparent"},{"offset":0.4167,"color":"transparent"},{"offset":0.4222,"color":"#000"},{"offset":0.4277,"color":"transparent"},{"offset":0.4375,"color":"transparent"},{"offset":0.443,"color":"#000"},{"offset":0.4485,"color":"transparent"},{"offset":0.4583,"color":"transparent"},{"offset":0.4638,"color":"#000"},{"offset":0.4693,"color":"transparent"},{"offset":0.4792,"color":"transparent"},{"offset":0.4847,"color":"#000"},{"offset":0.4902,"color":"transparent"},{"offset":0.5,"color":"transparent"},{"offset":0.5055,"color":"#000"},{"offset":0.511,"color":"transparent"},{"offset":0.5208,"color":"transparent"},{"offset":0.5263,"color":"#000"},{"offset":0.5318,"color":"transparent"},{"offset":0.5417,"color":"transparent"},{"offset":0.5472,"color":"#000"},{"offset":0.5527,"color":"transparent"},{"offset":0.5625,"color":"transparent"},{"offset":0.568,"color":"#000"},{"offset":0.5735,"color":"transparent"},{"offset":0.5833,"color":"transparent"},{"offset":0.5888,"color":"#000"},{"offset":0.5943,"color":"transparent"},{"offset":0.6042,"color":"transparent"},{"offset":0.6097,"color":"#000"},{"offset":0.6152,"color":"transparent"},{"offset":0.625,"color":"transparent"},{"offset":0.6305,"color":"#000"},{"offset":0.636,"color":"transparent"},{"offset":0.6458,"color":"transparent"},{"offset":0.6513,"color":"#000"},{"offset":0.6568,"color":"transparent"},{"offset":0.6667,"color":"transparent"},{"offset":0.6722,"color":"#000"},{"offset":0.6777,"color":"transparent"},{"offset":0.6875,"color":"transparent"},{"offset":0.693,"color":"#000"},{"offset":0.6985,"color":"transparent"},{"offset":0.7083,"color":"transparent"},{"offset":0.7138,"color":"#000"},{"offset":0.7193,"color":"transparent"},{"offset":0.7292,"color":"transparent"},{"offset":0.7347,"color":"#000"},{"offset":0.7402,"color":"transparent"},{"offset":0.75,"color":"transparent"},{"offset":0.7555,"color":"#000"},{"offset":0.761,"color":"transparent"},{"offset":0.7708,"color":"transparent"},{"offset":0.7763,"color":"#000"},{"offset":0.7818,"color":"transparent"},{"offset":0.7917,"color":"transparent"},{"offset":0.7972,"color":"#000"},{"offset":0.8027,"color":"transparent"},{"offset":0.8125,"color":"transparent"},{"offset":0.818,"color":"#000"},{"offset":0.8235,"color":"transparent"},{"offset":0.8333,"color":"transparent"},{"offset":0.8388,"color":"#000"},{"offset":0.8443,"color":"transparent"},{"offset":0.8542,"color":"transparent"},{"offset":0.8597,"color":"#000"},{"offset":0.8652,"color":"transparent"},{"offset":0.875,"color":"transparent"},{"offset":0.8805,"color":"#000"},{"offset":0.886,"color":"transparent"},{"offset":0.8958,"color":"transparent"},{"offset":0.9013,"color":"#000"},{"offset":0.9068,"color":"transparent"},{"offset":0.9167,"color":"transparent"},{"offset":0.9222,"color":"#000"},{"offset":0.9277,"color":"transparent"},{"offset":0.9375,"color":"transparent"},{"offset":0.943,"color":"#000"},{"offset":0.9485,"color":"transparent"},{"offset":0.9583,"color":"transparent"},{"offset":0.9638,"color":"#000"},{"offset":0.9693,"color":"transparent"},{"offset":0.9792,"color":"transparent"},{"offset":0.9847,"color":"#000"},{"offset":0.9902,"color":"transparent"}]}},
      "encoding": {
        "x": {"field": "ex", "type": "quantitative", "scale": {"domain": [60, 1200], "nice": false, "zero": false},
              "axis": {"title": "Hₜ [GeV]", "titleFontSize": 16, "titleAnchor": "end", "titlePadding": 15, "orient": "bottom", "labels": false,
                       "values": [100,150,200,250,300,350,400,450,500,550,600,650,700,750,800,850,900,950,1000,1050,1100,1150,1200],
                       "tickSize": {"condition": {"test": "datum.value % 200 == 0", "value": -5}, "value": -3}}},
        "y": {"field": "dhi", "type": "quantitative", "scale": {"domain": [0.25, 1.75], "nice": false, "zero": false},
              "axis": {"title": "MG_aMC/Data", "titleFontSize": 9.5, "titleAnchor": "middle", "titlePadding": 2, "minExtent": 24, "maxExtent": 24, "labels": false,
                       "values": [0.3,0.4,0.5,0.6,0.7,0.8,0.9,1,1.1,1.2,1.3,1.4,1.5,1.6,1.7],
                       "tickSize": {"condition": {"test": "datum.value == 0.5 || datum.value == 1 || datum.value == 1.5", "value": -9}, "value": -4.5}}},
        "y2": {"field": "dlo"}
      }
    },
    {"data": {"values": [{}]}, "mark": {"type": "rule", "color": "black", "strokeWidth": 1.5},
     "encoding": {"y": {"datum": 1}}},
    {"mark": {"type": "rule", "color": "black", "strokeWidth": 1},
     "encoding": {"x": {"field": "xc", "type": "quantitative"}, "y": {"field": "slo", "type": "quantitative"}, "y2": {"field": "shi"}}},
    {"mark": {"type": "circle", "color": "black", "size": 7, "opacity": 1},
     "encoding": {"x": {"field": "xc", "type": "quantitative"}, "y": {"datum": 1}}},
    {"mark": {"type": "rect", "fill": "#ffcc33", "stroke": "#ff5a1f", "strokeWidth": 1, "opacity": 1},
     "encoding": {"x": {"field": "xlo", "type": "quantitative"}, "x2": {"field": "xhi"}, "y": {"field": "r2lo", "type": "quantitative"}, "y2": {"field": "r2hi"}}},
    {"mark": {"type": "rule", "stroke": "#ff3d00", "strokeWidth": 1.5},
     "encoding": {"x": {"field": "xlo", "type": "quantitative"}, "x2": {"field": "xhi"}, "y": {"field": "r2", "type": "quantitative"}}},
    {"mark": {"type": "point", "shape": "square", "filled": true, "fill": "white", "fillOpacity": 0.3, "stroke": "#f5927f", "strokeWidth": 1.2, "size": 32, "opacity": 1},
     "encoding": {"x": {"field": "xc", "type": "quantitative"}, "y": {"field": "r2", "type": "quantitative"}}},
    {"data": {"values": [{}]}, "mark": {"type": "text", "align": "right", "baseline": "middle", "fontSize": 13},
     "encoding": {"x": {"datum": 44.4}, "y": {"datum": 0.5}, "text": {"value": "0.5"}}},
    {"data": {"values": [{}]}, "mark": {"type": "text", "align": "right", "baseline": "middle", "fontSize": 13},
     "encoding": {"x": {"datum": 44.4}, "y": {"datum": 1}, "text": {"value": "1"}}},
    {"data": {"values": [{}]}, "mark": {"type": "text", "align": "right", "baseline": "middle", "fontSize": 13},
     "encoding": {"x": {"datum": 44.4}, "y": {"datum": 1.5}, "text": {"value": "1.5"}}},
    {"data": {"values": [{}]}, "mark": {"type": "text", "align": "center", "baseline": "top", "fontSize": 13},
     "encoding": {"x": {"datum": 200}, "y": {"datum": 0.199}, "text": {"value": "200"}}},
    {"data": {"values": [{}]}, "mark": {"type": "text", "align": "center", "baseline": "top", "fontSize": 13},
     "encoding": {"x": {"datum": 400}, "y": {"datum": 0.199}, "text": {"value": "400"}}},
    {"data": {"values": [{}]}, "mark": {"type": "text", "align": "center", "baseline": "top", "fontSize": 13},
     "encoding": {"x": {"datum": 600}, "y": {"datum": 0.199}, "text": {"value": "600"}}},
    {"data": {"values": [{}]}, "mark": {"type": "text", "align": "center", "baseline": "top", "fontSize": 13},
     "encoding": {"x": {"datum": 800}, "y": {"datum": 0.199}, "text": {"value": "800"}}},
    {"data": {"values": [{}]}, "mark": {"type": "text", "align": "center", "baseline": "top", "fontSize": 13},
     "encoding": {"x": {"datum": 1000}, "y": {"datum": 0.199}, "text": {"value": "1000"}}},
    {"data": {"values": [{}]}, "mark": {"type": "text", "align": "center", "baseline": "top", "fontSize": 13},
     "encoding": {"x": {"datum": 1200}, "y": {"datum": 0.199}, "text": {"value": "1200"}}},
    {"data": {"values": [{"u": "Stat. unc. (gen)"}]},
     "mark": {"type": "point", "filled": true, "opacity": 0},
     "encoding": {"fill": {"field": "u", "type": "nominal", "scale": {"range": ["#ffcc33"]},
        "legend": {"title": null, "orient": "none", "legendX": 14.7, "legendY": 67.3, "symbolType": "M-1,-0.6H1V0.6H-1Z", "symbolSize": 279, "symbolStrokeColor": "#ff5a1f", "symbolStrokeWidth": 1.5, "symbolOpacity": 1,
                   "labelFontSize": 9.4, "labelOffset": 3.5, "padding": 0, "labelLimit": 300}}}}
  ]
}
]
}
